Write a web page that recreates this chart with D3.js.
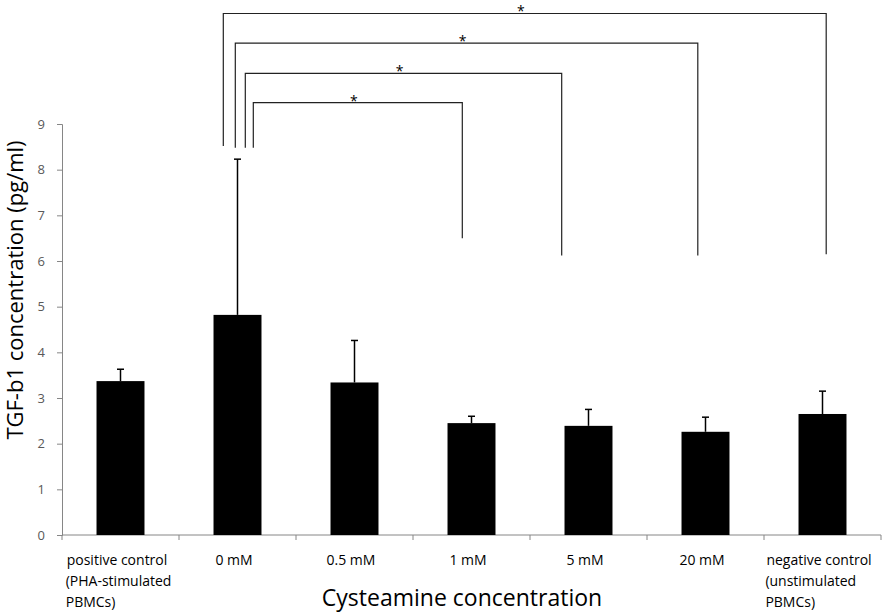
<!DOCTYPE html>
<html>
<head>
<meta charset="utf-8">
<script src="https://cdn.jsdelivr.net/npm/d3@7"></script>
<style>
  body { margin: 0; background: #fff; }
  svg { display: block; font-family: "Open Sans", "Noto Sans", sans-serif; }
</style>
</head>
<body>
<script>
// data
const categories = ['positive control', '0 mM', '0.5 mM', '1 mM', '5 mM', '20 mM', 'negative control'];
const labelLines = [
  ['positive control', '(PHA-stimulated', 'PBMCs)'],
  ['0 mM'], ['0.5 mM'], ['1 mM'], ['5 mM'], ['20 mM'],
  ['negative control', '(unstimulated', 'PBMCs)']
];
const means = [3.37, 4.82, 3.34, 2.45, 2.39, 2.26, 2.65];
const errors = [0.26, 3.41, 0.92, 0.15, 0.36, 0.32, 0.50];
const yTicks = [0, 1, 2, 3, 4, 5, 6, 7, 8, 9];

// significance brackets (levels in pg/ml)
const bracketTo = ['1 mM', '5 mM', '20 mM', 'negative control'];
const bracketTop = [9.47, 10.11, 10.77, 11.42];
const bracketLeftEnd = [8.48, 8.48, 8.48, 8.52];
const bracketRightEnd = [6.50, 6.12, 6.12, 6.15];

// small hand-drawn offsets from the bar centres
const leftShift = [15.8, 7.8, -2.2, -14.2];
const rightShift = [-9.2, -26.8, -7.7, 3.7];

const width = 883, height = 612;

let svg = d3.select('body').append('svg')
    .attr('width', width)
    .attr('height', height);

let x = d3.scaleBand()
    .domain(categories)
    .range([62, 881])
    .paddingInner(0.59)
    .paddingOuter(0.295);

let y = d3.scaleLinear()
    .domain([0, 9])
    .range([535, 124]);

let axisColor = '#868686';

// y axis
let yAxis = svg.append('g')
    .attr('transform', 'translate(62,0)')
    .call(d3.axisLeft(y).tickValues(yTicks).tickSize(5).tickPadding(12));
yAxis.select('.domain').attr('stroke', axisColor);
yAxis.selectAll('.tick line').attr('stroke', axisColor);
yAxis.selectAll('.tick text')
    .style('font-size', '13px')
    .attr('fill', '#595959')
    .style('font-family', '"Open Sans", sans-serif');

// x axis line with ticks on category boundaries
let boundaries = d3.range(categories.length + 1).map(i => 62 + i * x.step());
svg.append('line')
    .attr('x1', 62).attr('x2', 881)
    .attr('y1', y(0)).attr('y2', y(0))
    .attr('stroke', axisColor);
svg.selectAll('.xtick')
    .data(boundaries)
    .enter().append('line')
    .attr('class', 'xtick')
    .attr('x1', d => d).attr('x2', d => d)
    .attr('y1', y(0)).attr('y2', y(0) + 5)
    .attr('stroke', axisColor);

// bars
svg.selectAll('.bar')
    .data(means)
    .enter().append('rect')
    .attr('class', 'bar')
    .attr('x', (d, i) => x(categories[i]))
    .attr('width', x.bandwidth())
    .attr('y', d => y(d))
    .attr('height', d => y(0) - y(d))
    .attr('fill', '#000');

// error bars (upper only)
let cx = i => x(categories[i]) + x.bandwidth() / 2;
let err = svg.append('g').attr('stroke', '#000').attr('stroke-width', 1.5);
means.forEach((m, i) => {
    err.append('line')
        .attr('x1', cx(i)).attr('x2', cx(i))
        .attr('y1', y(m)).attr('y2', y(m + errors[i]));
    err.append('line')
        .attr('x1', cx(i) - 3.5).attr('x2', cx(i) + 3.5)
        .attr('y1', y(m + errors[i])).attr('y2', y(m + errors[i]));
});

// x tick labels (excel puts them a little left of centre)
let xl = svg.append('g')
    .style('font-size', '14px')
    .attr('fill', '#000');
labelLines.forEach((lines, i) => {
    let c = cx(i) - 3.5;
    let first = xl.append('text')
        .attr('x', c).attr('y', 565)
        .attr('text-anchor', 'middle')
        .text(lines[0]);
    let left = c - first.node().getComputedTextLength() / 2;
    lines.slice(1).forEach((t, j) => {
        xl.append('text')
            .attr('x', left - 1).attr('y', 565 + 21 * (j + 1))
            .text(t);
    });
});

// axis titles
svg.append('text')
    .attr('x', 462).attr('y', 606)
    .attr('text-anchor', 'middle')
    .style('font-size', '23px')
    .text('Cysteamine concentration');

svg.append('text')
    .attr('transform', 'translate(23,290) rotate(-90)')
    .attr('text-anchor', 'middle')
    .style('font-size', '22px')
    .text('TGF-b1 concentration (pg/ml)');

// significance brackets
let br = svg.append('g');
bracketTo.forEach((to, i) => {
    let x1 = cx(1) + leftShift[i];
    let x2 = cx(categories.indexOf(to)) + rightShift[i];
    let yt = y(bracketTop[i]);
    br.append('path')
        .attr('d', 'M' + x1 + ',' + y(bracketLeftEnd[i]) + 'V' + yt + 'H' + x2 + 'V' + y(bracketRightEnd[i]))
        .attr('fill', 'none')
        .attr('stroke', '#222')
        .attr('stroke-width', 1.2);
    br.append('text')
        .attr('x', (x1 + x2) / 2 - 4)
        .attr('y', yt + 3)
        .attr('text-anchor', 'middle')
        .style('font-size', '14px')
        .text('*');
});
</script>
</body>
</html>
